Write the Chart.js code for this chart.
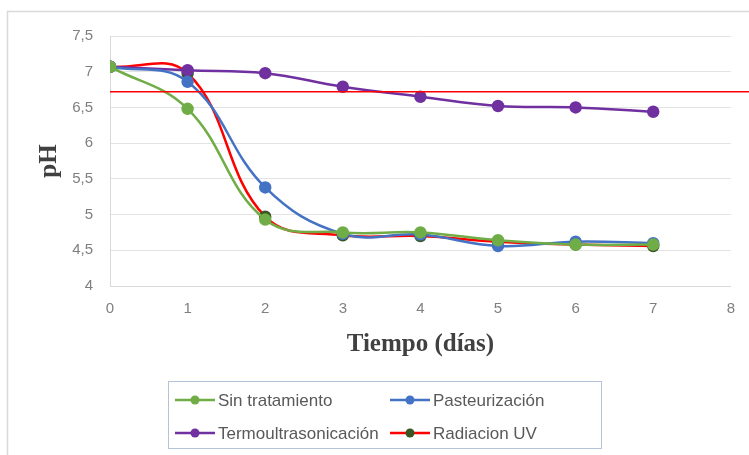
<!DOCTYPE html>
<html>
<head>
<meta charset="utf-8">
<script src="https://cdn.jsdelivr.net/npm/chart.js@4/dist/chart.umd.min.js"></script>
<style>
  html, body { margin: 0; padding: 0; background: #fff; }
  #wrap { width: 749px; height: 455px; position: relative; }
</style>
</head>
<body>
<div id="wrap"><canvas id="chart-ph" width="749" height="455"></canvas></div>
<script>
// datos
const dias = [0, 1, 2, 3, 4, 5, 6, 7];
const sinTratamiento = [7.07, 6.48, 4.93, 4.75, 4.75, 4.64, 4.58, 4.58];
const pasteurizacion = [7.07, 6.86, 5.38, 4.73, 4.72, 4.56, 4.62, 4.60];
const termoultrasonicacion = [7.07, 7.02, 6.98, 6.79, 6.65, 6.52, 6.50, 6.44];
const radiacionUV = [7.07, 6.98, 4.97, 4.71, 4.70, 4.62, 4.58, 4.56];
const lineaReferencia = 6.72;

const xTicks = [0, 1, 2, 3, 4, 5, 6, 7, 8];
const yTicks = [4, 4.5, 5, 5.5, 6, 6.5, 7, 7.5];

const series = [
  { label: "Sin tratamiento", data: sinTratamiento, line: "#70ad47", point: "#70ad47" },
  { label: "Pasteurización", data: pasteurizacion, line: "#4472c4", point: "#4472c4" },
  { label: "Termoultrasonicación", data: termoultrasonicacion, line: "#7030a0", point: "#7030a0" },
  { label: "Radiacion UV", data: radiacionUV, line: "#ff0000", point: "#375623" }
];

const tickFont = { family: "'Liberation Sans Narrow', 'Liberation Sans', sans-serif", size: 15 };
const titleFont = { family: "'Liberation Serif', 'Times New Roman', serif", size: 25, weight: "bold" };

// marco gris del gráfico
const frame = {
  id: "frame",
  beforeDraw(chart) {
    const ctx = chart.ctx;
    ctx.save();
    ctx.fillStyle = "#fff";
    ctx.fillRect(0, 0, chart.width, chart.height);
    ctx.strokeStyle = "#d9d9d9";
    ctx.lineWidth = 1.5;
    ctx.strokeRect(7.5, 11.5, chart.width + 10, chart.height + 10);
    ctx.restore();
  }
};

// línea roja horizontal
const refLine = {
  id: "refLine",
  afterDatasetsDraw(chart) {
    const ctx = chart.ctx;
    const y = chart.scales.y.getPixelForValue(lineaReferencia);
    ctx.save();
    ctx.strokeStyle = "#ff0000";
    ctx.lineWidth = 1.5;
    ctx.beginPath();
    ctx.moveTo(chart.chartArea.left, y);
    ctx.lineTo(chart.width, y);
    ctx.stroke();
    ctx.restore();
  }
};

// leyenda en dos columnas con recuadro
const boxLegend = {
  id: "boxLegend",
  afterDraw(chart) {
    const ctx = chart.ctx;
    const box = { x: 168, y: 381, w: 433, h: 67 };
    const cols = [175, 390];
    const rows = [400, 433];
    ctx.save();
    ctx.strokeStyle = "#b4c3d9";
    ctx.lineWidth = 1;
    ctx.strokeRect(box.x + 0.5, box.y + 0.5, box.w, box.h);
    ctx.font = "17px 'Liberation Sans Narrow', 'Liberation Sans', sans-serif";
    ctx.textBaseline = "middle";
    series.forEach((s, i) => {
      const x = cols[i % 2];
      const y = rows[Math.floor(i / 2)];
      ctx.strokeStyle = s.line;
      ctx.lineWidth = 2.5;
      ctx.beginPath();
      ctx.moveTo(x, y);
      ctx.lineTo(x + 40, y);
      ctx.stroke();
      ctx.fillStyle = s.point;
      ctx.beginPath();
      ctx.arc(x + 20, y, 4.5, 0, Math.PI * 2);
      ctx.fill();
      ctx.fillStyle = "#595959";
      ctx.fillText(s.label, x + 43, y + 1);
    });
    ctx.restore();
  }
};

new Chart(document.getElementById("chart-ph").getContext("2d"), {
  type: "line",
  data: {
    datasets: series.map(s => ({
      label: s.label,
      data: dias.map((d, i) => ({ x: d, y: s.data[i] })),
      borderColor: s.line,
      backgroundColor: s.point,
      pointBackgroundColor: s.point,
      pointBorderColor: s.point,
      pointRadius: 5,
      borderWidth: 2.5,
      tension: 0.4,
      fill: false
    }))
  },
  options: {
    responsive: false,
    animation: false,
    layout: { padding: { left: 0, right: 15, top: 36, bottom: 89 } },
    plugins: {
      legend: { display: false },
      tooltip: { enabled: false }
    },
    scales: {
      x: {
        type: "linear",
        min: 0,
        max: 8,
        afterBuildTicks: axis => { axis.ticks = xTicks.map(v => ({ value: v })); },
        afterFit: axis => { axis.height = 80; },
        grid: { display: false, drawTicks: false },
        border: { color: "#d9d9d9", width: 1 },
        ticks: { font: tickFont, color: "#7f7f7f", padding: 14, maxRotation: 0 },
        title: { display: true, text: "Tiempo (días)", font: titleFont, color: "#404040", padding: { top: 12, bottom: 6 } }
      },
      y: {
        min: 4,
        max: 7.5,
        afterBuildTicks: axis => { axis.ticks = yTicks.map(v => ({ value: v })); },
        afterFit: axis => { axis.width = 110; },
        grid: { color: "#e3e3e3", drawTicks: false },
        border: { color: "#d9d9d9", width: 1 },
        ticks: {
          font: tickFont,
          color: "#7f7f7f",
          padding: 17,
          callback: v => String(v).replace(".", ",")
        },
        title: { display: true, text: "pH", font: titleFont, color: "#404040", padding: { top: 35, bottom: 0 } }
      }
    }
  },
  plugins: [frame, refLine, boxLegend]
});
</script>
</body>
</html>
